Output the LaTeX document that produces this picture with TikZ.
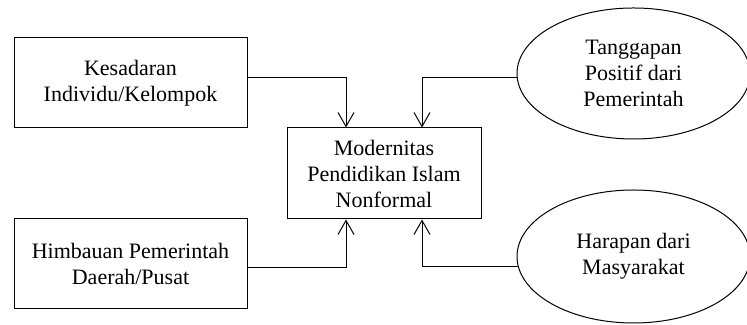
\documentclass[tikz,border=0pt]{standalone}
\usepackage{fontspec}
\setmainfont{Liberation Serif}
\usetikzlibrary{shapes.geometric,arrows.meta}
\begin{document}
\begin{tikzpicture}[
   x=0.5pt,y=0.5pt,
   font=\fontsize{11}{13}\selectfont,
   box/.style={draw,line width=0.5pt,align=center,inner sep=0pt,minimum width=116.5pt,minimum height=45pt},
   oval/.style={draw,ellipse,line width=0.5pt,align=center,inner sep=0pt,minimum width=116.5pt,minimum height=66pt},
   link/.style={-{Straight Barb[length=7pt,width=8pt]},line width=0.5pt}]
\useasboundingbox (0,0) rectangle (747,325);
\node[box] (kes) at (130.5,242) {Kesadaran\\Individu/Kelompok};
\node[box] (him) at (130.5,61.5) {Himbauan Pemerintah\\Daerah/Pusat};
\node[box,minimum width=97pt,minimum height=45.5pt] (mod) at (384,151.5) {Modernitas\\Pendidikan Islam\\Nonformal};
\node[oval,minimum height=65.5pt] (tang) at (633.5,251.5) {Tanggapan\\Positif dari\\Pemerintah};
\node[oval,minimum height=66.5pt] (har) at (633.5,68.5) {Harapan dari\\Masyarakat};
\draw[link] ([yshift=2.5pt]kes.east) -| ([xshift=-19pt]mod.north);
\draw[link] ([yshift=-2.25pt]him.east) -| ([xshift=-19pt]mod.south);
\draw[link] ([yshift=-2.25pt]tang.west) -| ([xshift=19pt]mod.north);
\draw[link] (har.185.6) -| ([xshift=19pt]mod.south);
\end{tikzpicture}
\end{document}
